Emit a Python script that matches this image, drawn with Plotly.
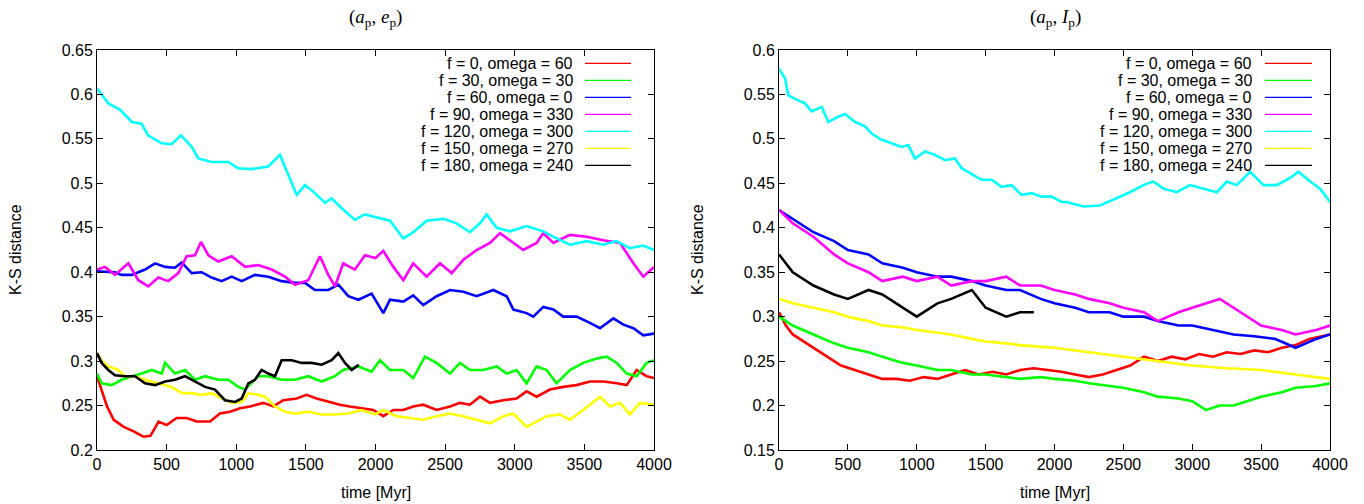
import plotly.graph_objects as go

# ---------------- data: left panel (a_p, e_p) ----------------
L_red_t = [0, 24, 72, 120, 192, 263, 334, 384, 442, 500, 572, 644, 716, 812, 883, 955, 1027, 1099, 1194, 1266, 1338, 1434, 1505, 1577, 1673, 1744, 1816, 1912, 1984, 2056, 2128, 2200, 2271, 2343, 2439, 2535, 2607, 2678, 2750, 2822, 2918, 3013, 3085, 3157, 3253, 3348, 3444, 3540, 3636, 3732, 3804, 3875, 3947, 4000]
L_red_v = [0.283, 0.271, 0.249, 0.234, 0.226, 0.221, 0.215, 0.216, 0.232, 0.228, 0.236, 0.236, 0.232, 0.232, 0.241, 0.243, 0.247, 0.249, 0.253, 0.249, 0.256, 0.258, 0.262, 0.258, 0.254, 0.251, 0.249, 0.247, 0.245, 0.238, 0.245, 0.245, 0.249, 0.251, 0.245, 0.249, 0.253, 0.251, 0.26, 0.253, 0.256, 0.258, 0.266, 0.26, 0.268, 0.271, 0.273, 0.277, 0.277, 0.275, 0.273, 0.29, 0.283, 0.281]

L_green_t = [0, 33, 105, 177, 250, 320, 393, 465, 489, 560, 632, 704, 776, 871, 943, 1015, 1063, 1158, 1230, 1326, 1422, 1517, 1613, 1709, 1768, 1877, 1972, 2032, 2104, 2200, 2271, 2355, 2439, 2535, 2607, 2678, 2774, 2870, 2942, 3013, 3085, 3157, 3229, 3300, 3396, 3492, 3588, 3660, 3732, 3804, 3875, 3947, 4000]
L_green_v = [0.286, 0.275, 0.273, 0.279, 0.283, 0.286, 0.29, 0.286, 0.298, 0.286, 0.29, 0.279, 0.283, 0.279, 0.279, 0.271, 0.268, 0.283, 0.283, 0.279, 0.279, 0.283, 0.277, 0.283, 0.29, 0.294, 0.288, 0.301, 0.29, 0.29, 0.281, 0.305, 0.298, 0.286, 0.298, 0.29, 0.29, 0.294, 0.286, 0.29, 0.275, 0.294, 0.29, 0.275, 0.29, 0.298, 0.303, 0.305, 0.298, 0.286, 0.283, 0.298, 0.301]

L_blue_t = [0, 129, 177, 250, 345, 417, 489, 560, 608, 680, 752, 823, 895, 967, 1039, 1134, 1230, 1326, 1422, 1494, 1565, 1661, 1733, 1805, 1877, 1972, 2056, 2104, 2200, 2271, 2343, 2439, 2535, 2631, 2726, 2846, 2942, 2990, 3085, 3133, 3205, 3277, 3348, 3444, 3540, 3612, 3708, 3780, 3852, 3923, 4000]
L_blue_v = [0.401, 0.4, 0.397, 0.397, 0.403, 0.41, 0.406, 0.405, 0.411, 0.399, 0.4, 0.394, 0.39, 0.395, 0.39, 0.397, 0.395, 0.39, 0.388, 0.388, 0.38, 0.38, 0.386, 0.373, 0.369, 0.376, 0.354, 0.369, 0.367, 0.374, 0.363, 0.373, 0.38, 0.378, 0.373, 0.38, 0.373, 0.358, 0.354, 0.35, 0.361, 0.358, 0.35, 0.35, 0.343, 0.337, 0.348, 0.341, 0.337, 0.329, 0.331]

L_magenta_t = [0, 57, 129, 225, 297, 368, 440, 512, 584, 644, 704, 747, 800, 871, 967, 1063, 1158, 1254, 1350, 1422, 1517, 1601, 1661, 1709, 1768, 1852, 1924, 2000, 2056, 2128, 2200, 2271, 2367, 2463, 2547, 2631, 2726, 2822, 2894, 2966, 3061, 3157, 3205, 3277, 3396, 3516, 3636, 3756, 3852, 3923, 4000]
L_magenta_v = [0.403, 0.406, 0.397, 0.41, 0.391, 0.384, 0.394, 0.39, 0.399, 0.418, 0.419, 0.434, 0.419, 0.412, 0.418, 0.406, 0.408, 0.403, 0.395, 0.386, 0.391, 0.418, 0.397, 0.384, 0.41, 0.403, 0.419, 0.416, 0.424, 0.406, 0.391, 0.41, 0.395, 0.41, 0.399, 0.414, 0.425, 0.433, 0.444, 0.436, 0.425, 0.433, 0.444, 0.433, 0.442, 0.44, 0.436, 0.433, 0.41, 0.395, 0.406]

L_cyan_t = [0, 80, 165, 250, 320, 367, 464, 536, 603, 680, 728, 823, 943, 1013, 1111, 1230, 1314, 1374, 1434, 1494, 1565, 1637, 1685, 1757, 1852, 1924, 2020, 2104, 2200, 2271, 2367, 2487, 2583, 2678, 2750, 2798, 2870, 2965, 3085, 3205, 3300, 3396, 3516, 3635, 3731, 3827, 3923, 4000]
L_cyan_v = [0.607, 0.59, 0.583, 0.569, 0.567, 0.554, 0.545, 0.544, 0.554, 0.541, 0.528, 0.524, 0.524, 0.517, 0.516, 0.519, 0.532, 0.509, 0.487, 0.498, 0.489, 0.478, 0.483, 0.472, 0.459, 0.465, 0.461, 0.458, 0.438, 0.445, 0.458, 0.46, 0.455, 0.445, 0.455, 0.465, 0.45, 0.446, 0.452, 0.446, 0.438, 0.431, 0.435, 0.431, 0.435, 0.427, 0.43, 0.425]

L_yellow_t = [0, 33, 81, 153, 201, 273, 345, 440, 536, 608, 680, 752, 823, 895, 967, 1039, 1087, 1158, 1206, 1278, 1350, 1422, 1517, 1613, 1709, 1805, 1900, 1996, 2056, 2152, 2247, 2343, 2439, 2535, 2631, 2726, 2822, 2918, 2990, 3085, 3157, 3229, 3324, 3396, 3492, 3612, 3684, 3756, 3827, 3899, 4000]
L_yellow_v = [0.309, 0.301, 0.294, 0.29, 0.283, 0.283, 0.279, 0.275, 0.271, 0.264, 0.264, 0.262, 0.264, 0.258, 0.253, 0.254, 0.264, 0.262, 0.26, 0.249, 0.243, 0.241, 0.243, 0.24, 0.24, 0.241, 0.245, 0.24, 0.245, 0.238, 0.236, 0.234, 0.238, 0.241, 0.238, 0.234, 0.23, 0.238, 0.241, 0.226, 0.232, 0.238, 0.24, 0.234, 0.245, 0.26, 0.249, 0.253, 0.24, 0.253, 0.251]

L_black_t = [0, 33, 81, 129, 201, 273, 345, 417, 489, 560, 632, 704, 776, 847, 919, 991, 1039, 1087, 1134, 1182, 1230, 1278, 1326, 1398, 1470, 1541, 1613, 1685, 1733, 1781, 1829, 1880]
L_black_v = [0.309, 0.298, 0.29, 0.284, 0.283, 0.283, 0.275, 0.273, 0.277, 0.279, 0.283, 0.277, 0.271, 0.268, 0.256, 0.254, 0.258, 0.275, 0.279, 0.29, 0.286, 0.283, 0.301, 0.301, 0.298, 0.298, 0.296, 0.301, 0.309, 0.298, 0.29, 0.296]

# ---------------- data: right panel (a_p, I_p) ----------------
R_red_t = [0, 50, 100, 150, 250, 350, 450, 550, 650, 750, 850, 950, 1050, 1150, 1250, 1350, 1450, 1550, 1650, 1750, 1850, 1950, 2050, 2150, 2250, 2350, 2450, 2550, 2650, 2750, 2850, 2950, 3050, 3150, 3250, 3350, 3450, 3550, 3650, 3750, 3850, 3950, 4000]
R_red_v = [0.305, 0.29, 0.28, 0.275, 0.265, 0.255, 0.245, 0.24, 0.235, 0.23, 0.23, 0.228, 0.232, 0.23, 0.235, 0.24, 0.235, 0.238, 0.235, 0.24, 0.242, 0.24, 0.238, 0.235, 0.232, 0.235, 0.24, 0.245, 0.255, 0.25, 0.255, 0.252, 0.258, 0.255, 0.26, 0.258, 0.262, 0.26, 0.265, 0.268, 0.275, 0.278, 0.28]

R_green_t = [0, 100, 250, 400, 500, 650, 750, 900, 1000, 1150, 1250, 1400, 1500, 1650, 1750, 1900, 2000, 2150, 2250, 2400, 2500, 2650, 2750, 2900, 3000, 3100, 3200, 3300, 3400, 3500, 3650, 3750, 3900, 4000]
R_green_v = [0.3, 0.29, 0.28, 0.27, 0.265, 0.26, 0.255, 0.248, 0.245, 0.24, 0.24, 0.235, 0.235, 0.232, 0.23, 0.232, 0.23, 0.228, 0.225, 0.222, 0.22, 0.215, 0.21, 0.208, 0.205, 0.195, 0.2, 0.2, 0.205, 0.21, 0.215, 0.22, 0.222, 0.225]

R_blue_t = [0, 100, 250, 400, 500, 650, 750, 900, 1000, 1150, 1250, 1400, 1500, 1650, 1750, 1900, 2000, 2150, 2250, 2400, 2500, 2650, 2750, 2900, 3000, 3150, 3300, 3450, 3600, 3750, 3900, 4000]
R_blue_v = [0.42, 0.41, 0.395, 0.385, 0.375, 0.37, 0.36, 0.355, 0.35, 0.345, 0.345, 0.34, 0.335, 0.33, 0.33, 0.32, 0.315, 0.31, 0.305, 0.305, 0.3, 0.3, 0.295, 0.29, 0.29, 0.285, 0.28, 0.278, 0.275, 0.265, 0.275, 0.28]

R_magenta_t = [0, 100, 250, 400, 500, 650, 750, 900, 1000, 1150, 1250, 1400, 1500, 1650, 1750, 1900, 2000, 2150, 2250, 2400, 2500, 2650, 2750, 2900, 3000, 3100, 3200, 3300, 3400, 3500, 3650, 3750, 3900, 4000]
R_magenta_v = [0.42, 0.405, 0.39, 0.37, 0.36, 0.35, 0.34, 0.345, 0.34, 0.345, 0.335, 0.34, 0.34, 0.345, 0.335, 0.335, 0.33, 0.325, 0.32, 0.315, 0.31, 0.305, 0.295, 0.305, 0.31, 0.315, 0.32, 0.31, 0.3, 0.29, 0.285, 0.28, 0.285, 0.29]

R_cyan_t = [0, 44, 68, 116, 189, 237, 310, 358, 431, 479, 552, 625, 673, 745, 818, 890, 939, 987, 1060, 1132, 1205, 1278, 1326, 1398, 1471, 1543, 1616, 1688, 1761, 1834, 1906, 1979, 2051, 2088, 2209, 2330, 2451, 2548, 2645, 2717, 2790, 2887, 2984, 3081, 3178, 3251, 3323, 3420, 3517, 3614, 3711, 3771, 3856, 3928, 4000]
R_cyan_v = [0.579, 0.568, 0.549, 0.545, 0.54, 0.531, 0.536, 0.519, 0.525, 0.528, 0.519, 0.514, 0.506, 0.499, 0.495, 0.491, 0.493, 0.478, 0.486, 0.482, 0.476, 0.478, 0.467, 0.461, 0.454, 0.454, 0.446, 0.448, 0.437, 0.439, 0.435, 0.435, 0.429, 0.429, 0.424, 0.425, 0.433, 0.44, 0.448, 0.452, 0.444, 0.44, 0.448, 0.444, 0.44, 0.452, 0.448, 0.463, 0.448, 0.448, 0.456, 0.463, 0.452, 0.444, 0.429]

R_yellow_t = [0, 100, 250, 400, 500, 650, 750, 900, 1000, 1150, 1250, 1400, 1500, 1650, 1750, 1900, 2000, 2250, 2500, 2750, 3000, 3250, 3500, 3750, 4000]
R_yellow_v = [0.32, 0.315, 0.31, 0.305, 0.3, 0.295, 0.29, 0.288, 0.285, 0.282, 0.28, 0.275, 0.272, 0.27, 0.268, 0.266, 0.265, 0.26, 0.255, 0.25, 0.245, 0.242, 0.24, 0.235, 0.23]

R_black_t = [0, 100, 250, 400, 500, 650, 750, 900, 1000, 1150, 1250, 1400, 1500, 1650, 1750, 1850]
R_black_v = [0.37, 0.35, 0.335, 0.325, 0.32, 0.33, 0.325, 0.31, 0.3, 0.315, 0.32, 0.33, 0.31, 0.3, 0.305, 0.305]

NAMES = ["f = 0, omega = 60", "f = 30, omega = 30", "f = 60, omega = 0", "f = 90, omega = 330",
         "f = 120, omega = 300", "f = 150, omega = 270", "f = 180, omega = 240"]
COLORS = ["#ff0000", "#00ff00", "#0000ff", "#ff00ff", "#00ffff", "#ffff00", "#000000"]

LEFT = [(L_red_t, L_red_v), (L_green_t, L_green_v), (L_blue_t, L_blue_v), (L_magenta_t, L_magenta_v),
        (L_cyan_t, L_cyan_v), (L_yellow_t, L_yellow_v), (L_black_t, L_black_v)]
RIGHT = [(R_red_t, R_red_v), (R_green_t, R_green_v), (R_blue_t, R_blue_v), (R_magenta_t, R_magenta_v),
         (R_cyan_t, R_cyan_v), (R_yellow_t, R_yellow_v), (R_black_t, R_black_v)]

X_TICKS = [0, 500, 1000, 1500, 2000, 2500, 3000, 3500, 4000]
L_Y_TICKS = [0.2, 0.25, 0.3, 0.35, 0.4, 0.45, 0.5, 0.55, 0.6, 0.65]
R_Y_TICKS = [0.15, 0.2, 0.25, 0.3, 0.35, 0.4, 0.45, 0.5, 0.55, 0.6]

W, H = 1364, 504
FONT = "Liberation Sans, Arial, sans-serif"
FS = 16

fig = go.Figure()
for (t, v), name, col in zip(LEFT, NAMES, COLORS):
    fig.add_trace(go.Scatter(x=t, y=v, mode="lines", name=name, line=dict(color=col, width=2.6),
                             xaxis="x", yaxis="y", showlegend=False))
for (t, v), name, col in zip(RIGHT, NAMES, COLORS):
    fig.add_trace(go.Scatter(x=t, y=v, mode="lines", name=name, line=dict(color=col, width=2.6),
                             xaxis="x2", yaxis="y2", showlegend=False))

def px(x):
    return x / W

def py(y):
    return 1 - y / H

ax_common = dict(showgrid=False, zeroline=False, showline=True, linecolor="black", linewidth=1,
                 mirror="ticks", ticks="inside", ticklen=6, tickcolor="black", automargin=False,
                 tickfont=dict(family=FONT, size=FS, color="black"))

fig.update_layout(
    width=W, height=H, margin=dict(l=0, r=0, t=0, b=0, pad=0, autoexpand=False),
    paper_bgcolor="white", plot_bgcolor="white", showlegend=False,
    xaxis=dict(domain=[px(97), px(654)], range=[0, 4000], tickvals=X_TICKS,
               ticktext=[str(v) for v in X_TICKS], anchor="y", **ax_common),
    yaxis=dict(domain=[py(450), py(50)], range=[0.2, 0.65], tickvals=L_Y_TICKS,
               ticktext=[f"{v:g}" for v in L_Y_TICKS], anchor="x", **ax_common),
    xaxis2=dict(domain=[px(779), px(1330)], range=[0, 4000], tickvals=X_TICKS,
                ticktext=[str(v) for v in X_TICKS], anchor="y2", **ax_common),
    yaxis2=dict(domain=[py(450), py(50)], range=[0.15, 0.6], tickvals=R_Y_TICKS,
                ticktext=[f"{v:g}" for v in R_Y_TICKS], anchor="x2", **ax_common),
)

ann = []
shapes = []
SERIF = "Liberation Serif, DejaVu Serif, serif"
ann.append(dict(text="(<i>a</i><sub>p</sub>, <i>e</i><sub>p</sub>)", x=px(376), y=py(18), xref="paper", yref="paper",
                showarrow=False, xanchor="center", yanchor="middle", font=dict(family=SERIF, size=19, color="black")))
ann.append(dict(text="(<i>a</i><sub>p</sub>, <i>I</i><sub>p</sub>)", x=px(1055), y=py(18), xref="paper", yref="paper",
                showarrow=False, xanchor="center", yanchor="middle", font=dict(family=SERIF, size=19, color="black")))
for xc in (376, 1055):
    ann.append(dict(text="time [Myr]", x=px(xc), y=py(492), xref="paper", yref="paper", showarrow=False,
                    xanchor="center", yanchor="middle", font=dict(family=FONT, size=FS, color="black")))
for xc in (15, 697):
    ann.append(dict(text="K-S distance", x=px(xc), y=py(250), xref="paper", yref="paper", showarrow=False,
                    textangle=-90, xanchor="center", yanchor="middle", font=dict(family=FONT, size=FS, color="black")))
for text_right, l0, l1 in ((574, 585, 631), (1253, 1265, 1312)):
    for i, (name, col) in enumerate(zip(NAMES, COLORS)):
        yy = 63.3 + 17 * i
        ann.append(dict(text=name, x=px(text_right), y=py(yy), xref="paper", yref="paper", showarrow=False,
                        xanchor="right", yanchor="middle", borderpad=0,
                        font=dict(family=FONT, size=FS, color="black")))
        shapes.append(dict(type="line", xref="paper", yref="paper", x0=px(l0), x1=px(l1), y0=py(yy), y1=py(yy),
                           line=dict(color=col, width=1.2)))

fig.update_layout(annotations=ann, shapes=shapes)
fig.write_html("out.html", config={"displayModeBar": False},
               post_script="document.body.style.margin='0';document.body.style.padding='0';"
                           "document.documentElement.style.overflow='hidden';")
